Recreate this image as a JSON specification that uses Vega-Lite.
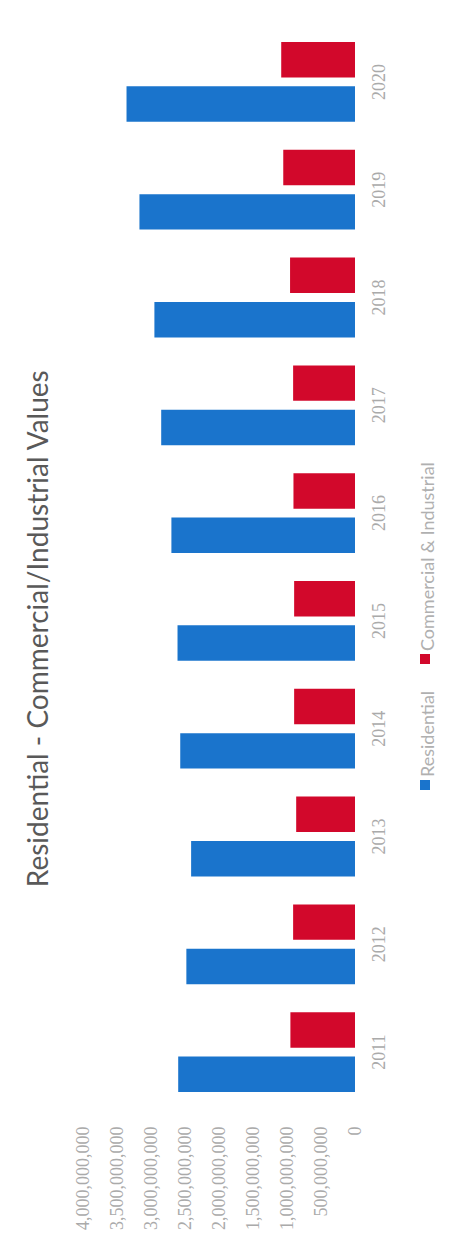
{
  "$schema": "https://vega.github.io/schema/vega-lite/v6.json",
  "width": 272,
  "height": 1078,
  "autosize": {"type": "pad"},
  "padding": {"left": 25, "top": 28, "right": 0, "bottom": 0},
  "background": "white",
  "title": {
    "text": "Residential  - Commercial/Industrial Values",
    "orient": "left",
    "anchor": "middle",
    "frame": "bounds",
    "font": "Lato",
    "fontSize": 28,
    "fontWeight": "normal",
    "color": "#595959",
    "offset": 20
  },
  "data": {
    "values": [
      {"year": "2011", "series": "Commercial & Industrial", "value": 950000000},
      {"year": "2011", "series": "Residential", "value": 2600000000},
      {"year": "2012", "series": "Commercial & Industrial", "value": 910000000},
      {"year": "2012", "series": "Residential", "value": 2480000000},
      {"year": "2013", "series": "Commercial & Industrial", "value": 865000000},
      {"year": "2013", "series": "Residential", "value": 2410000000},
      {"year": "2014", "series": "Commercial & Industrial", "value": 895000000},
      {"year": "2014", "series": "Residential", "value": 2570000000},
      {"year": "2015", "series": "Commercial & Industrial", "value": 895000000},
      {"year": "2015", "series": "Residential", "value": 2610000000},
      {"year": "2016", "series": "Commercial & Industrial", "value": 905000000},
      {"year": "2016", "series": "Residential", "value": 2700000000},
      {"year": "2017", "series": "Commercial & Industrial", "value": 910000000},
      {"year": "2017", "series": "Residential", "value": 2850000000},
      {"year": "2018", "series": "Commercial & Industrial", "value": 955000000},
      {"year": "2018", "series": "Residential", "value": 2950000000},
      {"year": "2019", "series": "Commercial & Industrial", "value": 1055000000},
      {"year": "2019", "series": "Residential", "value": 3170000000},
      {"year": "2020", "series": "Commercial & Industrial", "value": 1085000000},
      {"year": "2020", "series": "Residential", "value": 3360000000}
    ]
  },
  "mark": {"type": "bar"},
  "encoding": {
    "y": {
      "field": "year",
      "type": "nominal",
      "sort": "descending",
      "scale": {"paddingInner": 0.26, "paddingOuter": 0.13},
      "axis": {
        "orient": "right",
        "title": null,
        "labelAngle": -90,
        "labelAlign": "center",
        "labelBaseline": "top",
        "labelPadding": 15,
        "ticks": false,
        "tickSize": 0,
        "domain": false,
        "labelFont": "Liberation Serif",
        "labelFontSize": 18,
        "labelColor": "#aaaaaa"
      }
    },
    "yOffset": {
      "field": "series",
      "type": "nominal",
      "sort": ["Commercial & Industrial", "Residential"],
      "scale": {"paddingInner": 0.2}
    },
    "x": {
      "field": "value",
      "type": "quantitative",
      "scale": {"domain": [0, 4000000000], "reverse": true, "nice": false},
      "axis": {
        "title": null,
        "values": [0, 500000000, 1000000000, 1500000000, 2000000000, 2500000000, 3000000000, 3500000000, 4000000000],
        "format": ",.0f",
        "labelAngle": -90,
        "labelAlign": "right",
        "labelBaseline": "middle",
        "labelPadding": 20,
        "ticks": false,
        "tickSize": 0,
        "domain": false,
        "grid": false,
        "labelFont": "Liberation Serif",
        "labelFontSize": 18,
        "labelColor": "#aaaaaa",
        "labelOverlap": false
      }
    },
    "color": {
      "field": "series",
      "type": "nominal",
      "scale": {"domain": ["Commercial & Industrial", "Residential"], "range": ["#d2082b", "#1a74cc"]},
      "legend": {
        "orient": "none",
        "legendX": 333,
        "legendY": 622,
        "direction": "vertical",
        "title": null,
        "padding": 0,
        "symbolType": "square",
        "symbolSize": 100,
        "symbolStrokeWidth": 0,
        "labelOffset": -5,
        "labelFont": "Lato",
        "labelFontSize": 18,
        "labelColor": "#b0b0b0",
        "labelLimit": 400,
        "rowPadding": 26,
        "encode": {
          "labels": {
            "update": {
              "angle": {"value": -90},
              "align": {"value": "left"},
              "baseline": {"value": "middle"},
              "dx": {"value": 8}
            }
          }
        }
      }
    }
  },
  "config": {"view": {"stroke": null}}
}
